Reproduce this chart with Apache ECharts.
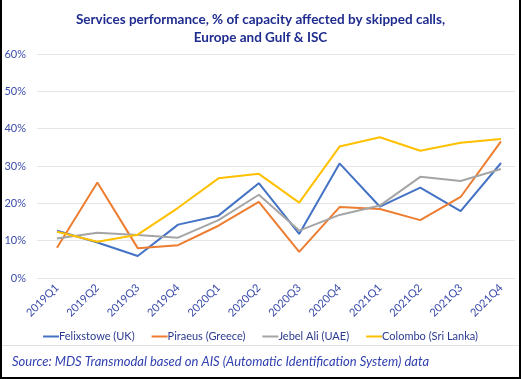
<!DOCTYPE html>
<html><head><meta charset="utf-8">
<script src="https://cdn.jsdelivr.net/npm/echarts@6/dist/echarts.min.js"></script>
<style>html,body{margin:0;padding:0;background:#fff}#c{width:521px;height:379px}</style>
</head><body><div id="c"></div>
<script>
const categories = ['2019Q1','2019Q2','2019Q3','2019Q4','2020Q1','2020Q2','2020Q3','2020Q4','2021Q1','2021Q2','2021Q3','2021Q4'];
const felixstowe = [12.7, 9.5, 5.9, 14.3, 16.7, 25.4, 11.8, 30.7, 19.1, 24.2, 17.9, 30.8];
const piraeus    = [8.1, 25.6, 8.0, 8.8, 14.0, 20.4, 7.0, 19.0, 18.5, 15.5, 21.7, 36.6];
const jebelAli   = [10.6, 12.1, 11.5, 10.8, 15.5, 22.3, 12.7, 16.9, 19.4, 27.1, 26.0, 29.2];
const colombo    = [12.4, 9.7, 11.6, 18.8, 26.7, 27.9, 20.2, 35.2, 37.7, 34.1, 36.2, 37.2];
const seriesNames = ['Felixstowe (UK)','Piraeus (Greece)','Jebel Ali (UAE)','Colombo (Sri Lanka)'];
const colors = ['#4472C4','#ED7D31','#A5A5A5','#FFC000'];
const yTicks = [0, 10, 20, 30, 40, 50, 60];

const FONT = 'Lato';
const chart = echarts.init(document.getElementById('c'), null, {renderer:'canvas'});
const seriesData = [felixstowe, piraeus, jebelAli, colombo];
chart.setOption({
  animation:false,
  backgroundColor:'#fff',
  color: colors,
  title:{
    text:'Services performance, % of capacity affected by skipped calls,\nEurope and Gulf & ISC',
    left:'center', top:6,
    textStyle:{fontFamily:FONT, fontSize:13.5, fontWeight:'bold', color:'#1F2C8F', lineHeight:18}
  },
  legend:{
    data: seriesNames, top:326, left:'center',
    icon:'rect', itemWidth:16, itemHeight:2, itemGap:17,
    textStyle:{fontFamily:FONT, fontSize:11, color:'#2B3A8F', padding:[0,0,0,-5]}
  },
  grid:[
    {left:57, right:20, top:54, bottom:101},
    {left:37, right:6, top:54, bottom:101}
  ],
  xAxis:[
    {type:'category', gridIndex:0, data:categories, boundaryGap:false,
     axisLine:{show:false}, axisTick:{show:false},
     axisLabel:{rotate:45, fontFamily:FONT, fontSize:11, color:'#3A4BA8', margin:8, interval:0}},
    {type:'category', gridIndex:1, data:categories, show:false}
  ],
  yAxis:[
    {type:'value', gridIndex:0, min:yTicks[0], max:yTicks[yTicks.length-1], interval:10, show:false},
    {type:'value', gridIndex:1, min:yTicks[0], max:yTicks[yTicks.length-1], interval:10,
     axisLine:{show:false}, axisTick:{show:false},
     splitLine:{lineStyle:{color:'#E6E6E6', width:1}},
     axisLabel:{formatter:'{value}%', fontFamily:FONT, fontSize:11, color:'#3A4BA8', margin:11}}
  ],
  series: seriesNames.map((n,i)=>({
    name:n, type:'line', xAxisIndex:0, yAxisIndex:0, data:seriesData[i],
    symbol:'none', lineStyle:{width:2, color:colors[i]}, itemStyle:{color:colors[i]}
  })),
  graphic:[
    {type:'line', shape:{x1:1, y1:345.5, x2:519, y2:345.5}, style:{stroke:'#E0E0E0', lineWidth:1}},
    {type:'rect', shape:{x:0, y:0, width:2, height:379}, style:{fill:'#000'}},
    {type:'rect', shape:{x:519, y:0, width:2, height:379}, style:{fill:'#000'}},
    {type:'rect', shape:{x:0, y:377, width:521, height:2}, style:{fill:'#000'}},
    {type:'text', left:12, top:355, style:{text:'Source: MDS Transmodal based on AIS (Automatic Identification System) data',
      font:'italic 13px Lato', fill:'#2F3FAF'}}
  ]
});
</script></body></html>
